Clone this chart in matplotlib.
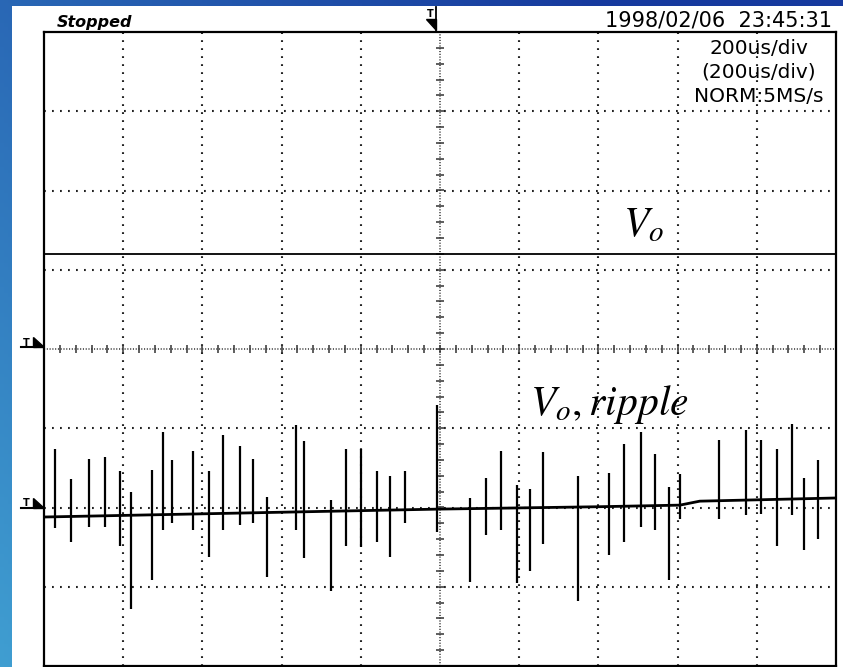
import numpy as np
import matplotlib
matplotlib.use("Agg")
import matplotlib.pyplot as plt
from matplotlib.patches import Rectangle, Polygon
from matplotlib.lines import Line2D

plt.rcParams['mathtext.fontset'] = 'stix'
plt.rcParams['lines.scale_dashes'] = False

W, H = 843, 667

# ---------------- data (in screen divisions) ----------------
vo_level = 1.20
ripple_t = [0.0, 3.23, 5.0, 7.02, 8.03, 8.28, 10.0]
ripple_v = [-2.12, -2.055, -2.02, -1.99, -1.97, -1.92, -1.88]

spike_t = [0.143, 0.341, 0.568, 0.766, 0.963, 1.102, 1.364, 1.503, 1.620, 1.881,
           2.083, 2.264, 2.475, 2.643, 2.819, 3.182, 3.283, 3.620, 3.813, 4.003,
           4.201, 4.369, 4.562, 4.956, 5.379, 5.577, 5.774, 5.976, 6.136, 6.297,
           6.739, 7.138, 7.319, 7.538, 7.718, 7.895, 8.034, 8.519, 8.860, 9.053,
           9.255, 9.441, 9.600, 9.773]
spike_hi = [-1.265, -1.643, -1.383, -1.366, -1.538, -1.803, -1.522, -1.043, -1.404, -1.282,
            -1.538, -1.081, -1.223, -1.383, -1.862, -0.962, -1.164, -1.900, -1.265, -1.265,
            -1.542, -1.602, -1.542, -0.706, -1.882, -1.623, -1.282, -1.719, -1.762, -1.304,
            -1.602, -1.560, -1.202, -1.043, -1.324, -1.740, -1.580, -1.144, -1.021, -1.144,
            -1.261, -0.941, -1.623, -1.404]
spike_lo = [-2.257, -2.438, -2.241, -2.241, -2.480, -3.282, -2.917, -2.279, -2.198, -2.279,
            -2.619, -2.279, -2.219, -2.198, -2.880, -2.279, -2.636, -3.052, -2.480, -2.497,
            -2.438, -2.619, -2.198, -2.308, -2.938, -2.342, -2.279, -2.955, -2.800, -2.459,
            -3.178, -2.598, -2.438, -2.241, -2.279, -2.917, -2.140, -2.140, -2.097, -2.077,
            -2.480, -2.097, -2.538, -2.396]

header_left = "Stopped"
header_right = "1998/02/06  23:45:31"
time_labels = ["200us/div", "(200us/div)", "NORM:5MS/s"]
label_vo = r"$V_o$"
label_ripple = r"$V_o,ripple$"

def fx(px):
    return px / W

def fy(py):
    return 1 - py / H

fig = plt.figure(figsize=(W / 100, H / 100), dpi=100)

# ---------------- blue gradient background ----------------
bg = fig.add_axes([0, 0, 1, 1], zorder=0)
gx, gy = np.meshgrid(np.linspace(0, 1, 200), np.linspace(0, 1, 200))
t = np.clip(0.65 * gx + 0.55 * (1 - gy), 0, 1)
c_light = np.array([0.25, 0.62, 0.82])
c_dark = np.array([0.09, 0.23, 0.62])
img = c_light[None, None, :] * (1 - t[..., None]) + c_dark[None, None, :] * t[..., None]
bg.imshow(img, extent=[0, 1, 0, 1], aspect='auto', origin='upper')
bg.set_xlim(0, 1)
bg.set_ylim(0, 1)
bg.axis('off')
bg.add_patch(Rectangle((fx(12), 0), 1 - fx(12), fy(6), facecolor='white',
                       edgecolor='none', transform=bg.transAxes))

# ---------------- scope screen ----------------
ax = fig.add_axes([fx(44), fy(666), fx(836) - fx(44), fy(32) - fy(666)], zorder=2)
ax.set_xlim(0, 10)
ax.set_ylim(-4, 4)
ax.set_xticks([])
ax.set_yticks([])
ax.set_facecolor('white')
for s in ax.spines.values():
    s.set_linewidth(1.6)
    s.set_color('black')

grid_kw = dict(color='#222222', lw=1.5, dashes=(1.3, 4.46), zorder=1)
for i in range(1, 10):
    if i != 5:
        ax.axvline(i, **grid_kw)
for j in range(-3, 4):
    if j != 0:
        ax.axhline(j, **grid_kw)

# centre axes with minor ticks
ax.axvline(5, color='#333333', lw=1.1, dashes=(0.8, 1.2), zorder=1)
ax.axhline(0, color='#333333', lw=1.1, dashes=(0.8, 1.2), zorder=1)
minor_x = np.arange(0.2, 10.0, 0.2)
minor_y = np.arange(-3.8, 4.0, 0.2)
ax.vlines(minor_x, -0.045, 0.045, color='#333333', lw=1.1, zorder=1)
ax.hlines(minor_y, 5 - 0.045, 5 + 0.045, color='#333333', lw=1.1, zorder=1)

# traces
ax.plot([0, 10], [vo_level, vo_level], color='black', lw=1.3, zorder=3)
ax.plot(ripple_t, ripple_v, color='black', lw=2.0, zorder=3)
ax.vlines(spike_t, spike_lo, spike_hi, color='black', lw=1.6, zorder=3)

# labels on screen
ax.text(7.31, 1.425, label_vo, fontsize=30, ha='left', va='baseline', zorder=4)
ax.text(6.14, -0.832, label_ripple, fontsize=30, ha='left', va='baseline', zorder=4)

# ---------------- header texts ----------------
fig.text(fx(57), fy(27), header_left, fontsize=11.5, fontweight='bold',
         fontstyle='italic', ha='left', va='baseline', zorder=5)
fig.text(fx(832), fy(27), header_right, fontsize=15, ha='right',
         va='baseline', zorder=5)
for k, lab in enumerate(time_labels):
    fig.text(fx(759), fy(54 + 24 * k), lab, fontsize=14.5, ha='center',
             va='baseline', zorder=5)

# ---------------- trigger markers ----------------
def left_marker(py):
    fig.text(fx(26), fy(py - 1.5), "T", fontsize=7, fontweight='bold',
             ha='center', va='baseline', zorder=5)
    fig.add_artist(Line2D([fx(21), fx(36)], [fy(py), fy(py)], color='black',
                          lw=1.5, transform=fig.transFigure, zorder=5))
    fig.add_artist(Polygon([(fx(33), fy(py - 10)), (fx(33), fy(py)), (fx(44), fy(py))],
                           closed=True, facecolor='black', edgecolor='black',
                           transform=fig.transFigure, zorder=5))

left_marker(347)
left_marker(508)

# top trigger position marker
fig.text(fx(430), fy(17), "T", fontsize=7, fontweight='bold', ha='center',
         va='baseline', zorder=5)
fig.add_artist(Line2D([fx(436), fx(436)], [fy(7), fy(30)], color='black', lw=1.3,
                      transform=fig.transFigure, zorder=5))
fig.add_artist(Polygon([(fx(426), fy(19)), (fx(436), fy(19)), (fx(436), fy(30))],
                       closed=True, facecolor='black', edgecolor='black',
                       transform=fig.transFigure, zorder=5))

fig.savefig("out.png", dpi=100)
